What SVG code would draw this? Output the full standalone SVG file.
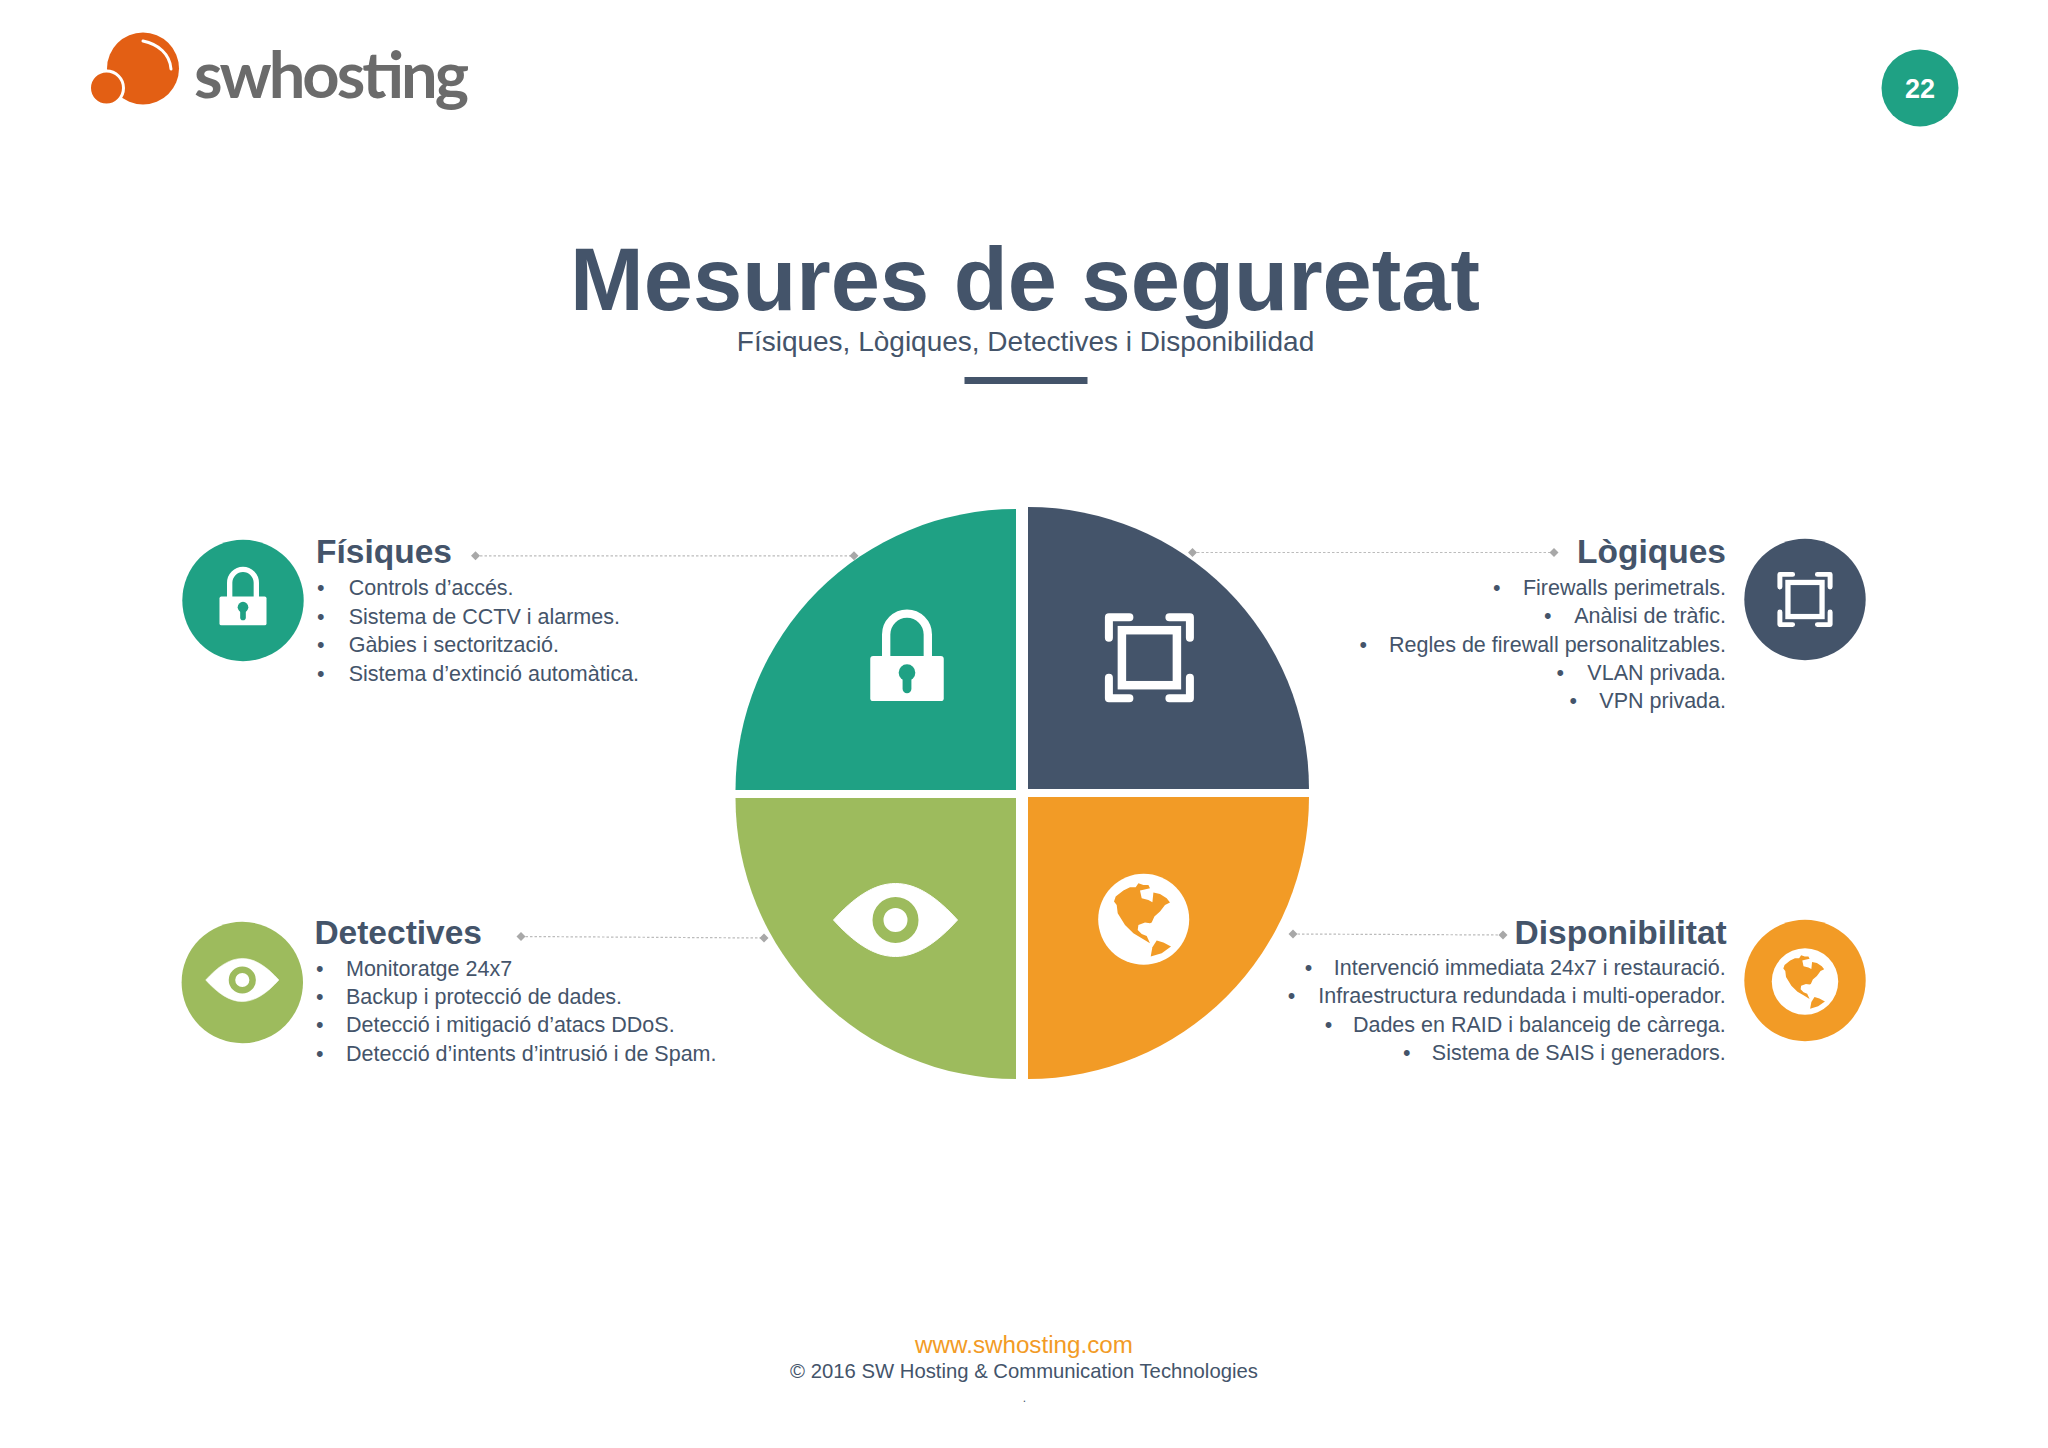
<svg xmlns="http://www.w3.org/2000/svg" width="2048" height="1448" viewBox="0 0 2048 1448">
<style>
text{font-family:"Liberation Sans",Arial,sans-serif;fill:#44546a}
.h{font-size:33.5px;font-weight:700}
.b{font-size:21.5px}
.r{text-anchor:end}
.c{text-anchor:middle}
.link{fill:none;stroke:#bcbcbc;stroke-width:1.2;stroke-dasharray:2.5 2;marker-start:url(#dia);marker-end:url(#dia)}
</style>
<defs>
<marker id="dia" viewBox="-5 -5 10 10" markerWidth="10" markerHeight="10" markerUnits="userSpaceOnUse" refX="0" refY="0"><path d="M0-4.5 4.5 0 0 4.5-4.5 0Z" fill="#a8a8a8"/></marker>
<g id="lock">
<path d="M-21.25 2V-22A21.25 21.25 0 0 1 21.25-22V2" fill="none" stroke="#fff" stroke-width="8.5"/>
<rect x="-37.500" y="0" width="75" height="46" rx="3" fill="#fff"/>
<circle cx="0" cy="17" r="8.500" fill="currentColor"/>
<rect x="-4.500" y="17" width="9" height="21" rx="4.500" fill="currentColor"/>
</g>
<g id="frame" fill="none" stroke="#fff">
<rect x="-27.500" y="-27.500" width="55" height="55" stroke-width="8.500"/>
<path d="M-40.500-20V-40.500H-20M20-40.500H40.500V-20M40.500 20V40.500H20M-20 40.500H-40.500V20" stroke-width="8" stroke-linecap="round" stroke-linejoin="round"/>
</g>
<g id="eye">
<path d="M-62 0C-42-22-22-36.500 0-36.500S42-22 62 0C42 22 22 36.500 0 36.500S-42 22-62 0Z" fill="#fff" stroke="#fff" stroke-width="1" stroke-linejoin="round"/>
<circle cx="0" cy="0" r="17.500" fill="none" stroke="currentColor" stroke-width="11"/>
</g>
<g id="globe">
<circle cx="0" cy="0" r="45.500" fill="#fff"/>
<path fill="currentColor" d="M-29.700-17.700-28-22.700-20.300-28.700-13.700-32-8-32-5.300-36-.3-34.300 4.700-34.300 6.300-31-1.300-29.300-3.700-28.700-2-21 4.700-19.300 8.700-17 9.700-26.700 16.300-25.300 23-21 26.300-16.700 21.300-14.300 16.300-7.700 10.700-2.700 8 3.300 6.300 4 1.300 3.300-5.300 5.700-6 10.700-2 14.700 3 16.700 6.300 24-2 19-10.300 14-18.700 5.700-26-6-27-14.300Z"/>
<path fill="currentColor" d="M7 37.300 8.700 28 13 21.300 19.700 23.300 27.300 27.300 18 34Z"/>
</g>
</defs>
<rect width="2048" height="1448" fill="#fff"/>

<g id="logo">
<circle cx="143" cy="68.500" r="36" fill="#e35f14"/>
<circle cx="106.500" cy="88" r="17" fill="#e35f14" stroke="#fff" stroke-width="3"/>
<path d="M143 41C158 44 170 54 171 69" fill="none" stroke="#fff" stroke-width="3" stroke-linecap="round"/>
<text x="194" y="98" textLength="275" lengthAdjust="spacing" style="font-family:Lato,'Liberation Sans',sans-serif;font-size:65px;font-weight:700;fill:#6b6b6b">swhosting</text>
</g>

<g id="page-number">
<circle cx="1920" cy="88" r="38.500" fill="#1fa184"/>
<text x="1920" y="98" class="c" style="font-size:27px;font-weight:700;fill:#fff">22</text>
</g>

<g id="title">
<text x="1025" y="309.500" class="c" style="font-size:88.500px;font-weight:700">Mesures de seguretat</text>
<text x="1025.500" y="350.500" class="c" style="font-size:28px">Físiques, Lògiques, Detectives i Disponibilidad</text>
<rect x="964.500" y="377" width="123" height="7" fill="#44546a"/>
</g>

<g id="connectors">
<path class="link" d="M475.500 555.800H854"/>
<path class="link" d="M1192.500 552.500H1554"/>
<path class="link" d="M521 936.500 764 938"/>
<path class="link" d="M1293 934 1503 935"/>
</g>

<g id="wheel-fisiques">
<path d="M1016 790H735.500A280.500 281 0 0 1 1016 509Z" fill="#1fa184"/>
<use href="#lock" transform="translate(907 656) scale(.98)" color="#1fa184"/>
</g>
<g id="wheel-logiques">
<path d="M1028 789V507A281 282 0 0 1 1309 789Z" fill="#44546a"/>
<use href="#frame" x="1149.400" y="657.700"/>
</g>
<g id="wheel-detectives">
<path d="M735.500 798H1016V1079A280.500 281 0 0 1 735.500 798Z" fill="#9dbb5d"/>
<use href="#eye" x="895.500" y="920" color="#9dbb5d"/>
</g>
<g id="wheel-disponibilitat">
<path d="M1028 797H1309A281 282 0 0 1 1028 1079Z" fill="#f29b26"/>
<use href="#globe" x="1143.700" y="919.300" color="#f29b26"/>
</g>

<g id="fisiques">
<circle cx="243" cy="600.500" r="60.700" fill="#1fa184"/>
<use href="#lock" transform="translate(243 596.500) scale(.627)" color="#1fa184"/>
<text x="316" y="563.400" class="h">Físiques</text>
<text class="b"><tspan x="317" y="595">•</tspan><tspan x="348.700" y="595">Controls d’accés.</tspan><tspan x="317" y="623.600">•</tspan><tspan x="348.700" y="623.600">Sistema de CCTV i alarmes.</tspan><tspan x="317" y="652.200">•</tspan><tspan x="348.700" y="652.200">Gàbies i sectorització.</tspan><tspan x="317" y="680.500">•</tspan><tspan x="348.700" y="680.500">Sistema d’extinció automàtica.</tspan></text>
</g>

<g id="logiques">
<circle cx="1805" cy="599.500" r="60.700" fill="#44546a"/>
<use href="#frame" transform="translate(1805 599.500) scale(.62)"/>
<text x="1726" y="563.400" class="h r">Lògiques</text>
<text class="b"><tspan x="1493" y="594.500">•</tspan><tspan x="1544" y="623">•</tspan><tspan x="1359.500" y="651.800">•</tspan><tspan x="1556.500" y="679.500">•</tspan><tspan x="1569.500" y="707.500">•</tspan></text>
<text class="b r"><tspan x="1726" y="594.500">Firewalls perimetrals.</tspan><tspan x="1726" y="623">Anàlisi de tràfic.</tspan><tspan x="1726" y="651.800">Regles de firewall personalitzables.</tspan><tspan x="1726" y="679.500">VLAN privada.</tspan><tspan x="1726" y="707.500">VPN privada.</tspan></text>
</g>

<g id="detectives">
<circle cx="242.300" cy="982.500" r="60.700" fill="#9dbb5d"/>
<use href="#eye" transform="translate(242.300 980) scale(.59)" color="#9dbb5d"/>
<text x="314.400" y="943.500" class="h">Detectives</text>
<text class="b"><tspan x="316" y="975.500">•</tspan><tspan x="346" y="975.500">Monitoratge 24x7</tspan><tspan x="316" y="1003.900">•</tspan><tspan x="346" y="1003.900">Backup i protecció de dades.</tspan><tspan x="316" y="1032.300">•</tspan><tspan x="346" y="1032.300">Detecció i mitigació d’atacs DDoS.</tspan><tspan x="316" y="1060.500">•</tspan><tspan x="346" y="1060.500">Detecció d’intents d’intrusió i de Spam.</tspan></text>
</g>

<g id="disponibilitat">
<circle cx="1805" cy="980.500" r="60.700" fill="#f29b26"/>
<use href="#globe" transform="translate(1805 981.500) scale(.73)" color="#f29b26"/>
<text x="1726.700" y="943.500" class="h r">Disponibilitat</text>
<text class="b"><tspan x="1304.800" y="974.500">•</tspan><tspan x="1287.800" y="1003">•</tspan><tspan x="1324.800" y="1031.500">•</tspan><tspan x="1403" y="1059.700">•</tspan></text>
<text class="b r"><tspan x="1725.800" y="974.500">Intervenció immediata 24x7 i restauració.</tspan><tspan x="1725.800" y="1003">Infraestructura redundada i multi-operador.</tspan><tspan x="1725.800" y="1031.500">Dades en RAID i balanceig de càrrega.</tspan><tspan x="1725.800" y="1059.700">Sistema de SAIS i generadors.</tspan></text>
</g>

<g id="footer">
<text x="1024" y="1353" class="c" style="font-size:24.200px;fill:#f29b26">www.swhosting.com</text>
<text x="1024" y="1378" class="c" style="font-size:20.300px">© 2016 SW Hosting &amp; Communication Technologies</text>
<text x="1024.500" y="1402" class="c" style="font-size:12px">.</text>
</g>
</svg>
